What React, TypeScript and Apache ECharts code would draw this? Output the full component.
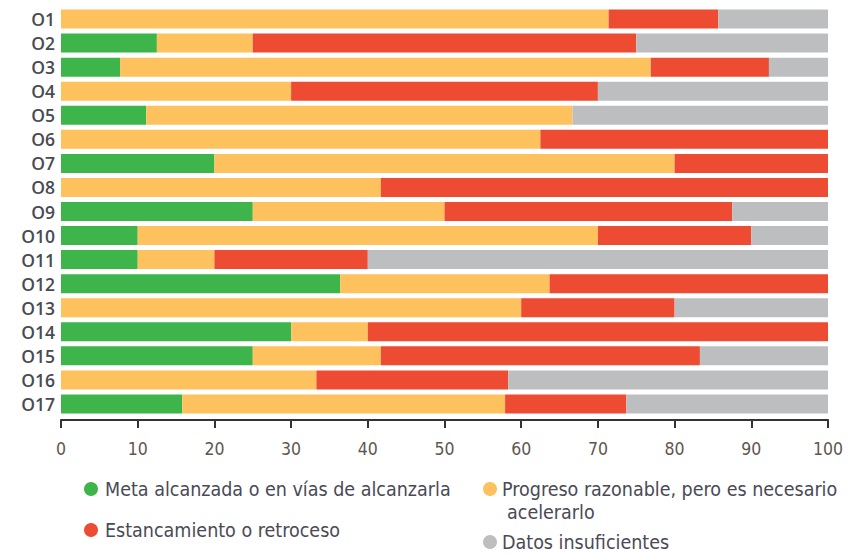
import React, { useEffect, useRef } from "react";
import * as echarts from "echarts";

const categories = ["O1", "O2", "O3", "O4", "O5", "O6", "O7", "O8", "O9", "O10", "O11", "O12", "O13", "O14", "O15", "O16", "O17"];
const metaAlcanzada = [0, 12.5, 7.7, 0, 11.1, 0, 20, 0, 25, 10, 10, 36.4, 0, 30, 25, 0, 15.8];
const progresoRazonable = [71.4, 12.5, 69.2, 30, 55.6, 62.5, 60, 41.7, 25, 60, 10, 27.3, 60, 10, 16.7, 33.3, 42.1];
const estancamiento = [14.3, 50, 15.4, 40, 0, 37.5, 20, 58.3, 37.5, 20, 20, 36.3, 20, 60, 41.6, 25, 15.8];
const datosInsuficientes = [14.3, 25, 7.7, 30, 33.3, 0, 0, 0, 12.5, 10, 60, 0, 20, 0, 16.7, 41.7, 26.3];
const xTicks = [0, 10, 20, 30, 40, 50, 60, 70, 80, 90, 100];

const seriesNames = [
  "Meta alcanzada o en vías de alcanzarla",
  "Progreso razonable, pero es necesario acelerarlo",
  "Estancamiento o retroceso",
  "Datos insuficientes",
];
const colors = ["#3DB54A", "#FDC15E", "#EE4B33", "#BDBEC0"];

export default function App() {
  const ref = useRef<HTMLDivElement>(null);
  useEffect(() => {
    if (!ref.current) return;
    const chart = echarts.init(ref.current, undefined, { renderer: "svg" });
    const values = [metaAlcanzada, progresoRazonable, estancamiento, datosInsuficientes];
    const labelFont = "'DejaVu Sans Condensed', 'DejaVu Sans', sans-serif";
    const legendFont = `19.5px ${labelFont}`;
    const legendColor = "#4a4a55";
    chart.setOption({
      animation: false,
      backgroundColor: "#ffffff",
      grid: { left: 61, right: 33, top: 7, height: 409, containLabel: false },
      xAxis: {
        type: "value",
        min: 0,
        max: 100,
        interval: 10,
        offset: 4,
        axisLine: { show: true, lineStyle: { color: "#333333", width: 2 } },
        axisTick: { show: true, inside: false, length: 8, lineStyle: { color: "#333333", width: 2 } },
        splitLine: { show: false },
        axisLabel: {
          margin: 20,
          color: "#5e5650",
          fontSize: 17.5,
          fontFamily: labelFont,
          formatter: (v: number) => (xTicks.includes(v) ? String(v) : ""),
        },
      },
      yAxis: {
        type: "category",
        data: categories,
        inverse: true,
        axisLine: { show: false },
        axisTick: { show: false },
        axisLabel: {
          margin: 6,
          color: "#4a4a52",
          fontSize: 17.5,
          fontWeight: 600,
          fontFamily: "'Open Sans', sans-serif",
        },
      },
      series: values.map((d, i) => ({
        name: seriesNames[i],
        type: "bar",
        stack: "total",
        barCategoryGap: "21%",
        itemStyle: { color: colors[i] },
        data: d,
      })),
      graphic: [
        { type: "circle", shape: { cx: 91, cy: 489, r: 7 }, style: { fill: colors[0] } },
        { type: "text", x: 105, y: 489, style: { text: seriesNames[0], fill: legendColor, font: legendFont, verticalAlign: "middle" } },
        { type: "circle", shape: { cx: 91, cy: 530, r: 7 }, style: { fill: colors[2] } },
        { type: "text", x: 105, y: 530, style: { text: "Estancamiento o retroceso", fill: legendColor, font: legendFont, verticalAlign: "middle" } },
        { type: "circle", shape: { cx: 490, cy: 489, r: 7 }, style: { fill: colors[1] } },
        { type: "text", x: 502, y: 489, style: { text: "Progreso razonable, pero es necesario", fill: legendColor, font: legendFont, verticalAlign: "middle" } },
        { type: "text", x: 507, y: 512, style: { text: "acelerarlo", fill: legendColor, font: legendFont, verticalAlign: "middle" } },
        { type: "circle", shape: { cx: 490, cy: 542, r: 7 }, style: { fill: colors[3] } },
        { type: "text", x: 502, y: 542, style: { text: "Datos insuficientes", fill: legendColor, font: legendFont, verticalAlign: "middle" } },
      ],
    });
    return () => chart.dispose();
  }, []);
  return <div ref={ref} style={{ position: "fixed", left: 0, top: 0, width: 861, height: 554 }} />;
}
